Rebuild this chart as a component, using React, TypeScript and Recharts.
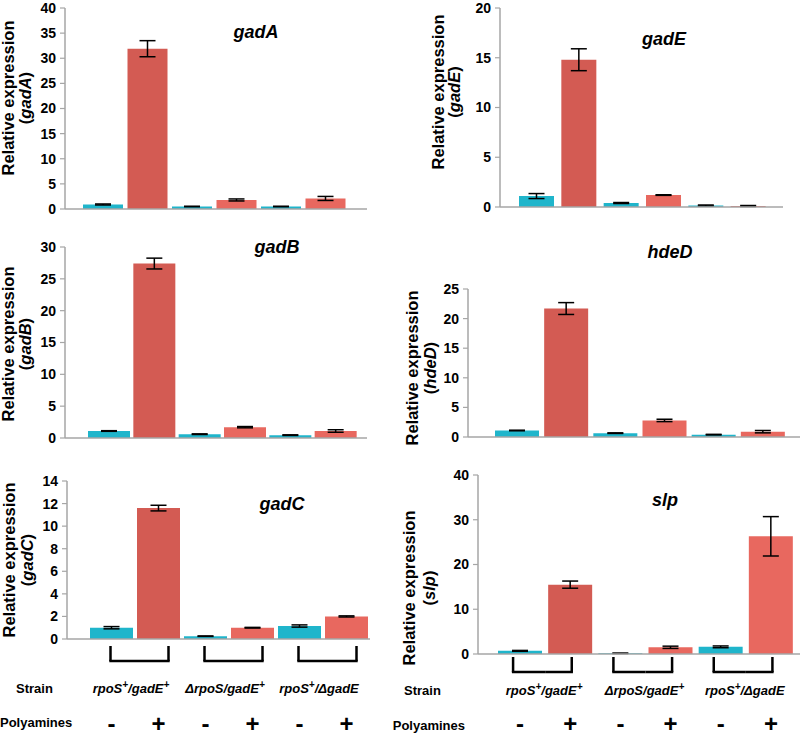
import React from 'react';
import { BarChart, Bar, XAxis, YAxis, ErrorBar, Cell } from 'recharts';

const conditionKeys = ['c1', 'c2', 'c3', 'c4', 'c5', 'c6'];
const strainLabels = ['rpoS^+/gadE^+', 'ΔrpoS/gadE^+', 'rpoS^+/ΔgadE'];
const polyamineSigns = ['-', '+', '-', '+', '-', '+'];

const gadAValues = [0.9, 31.9, 0.5, 1.8, 0.5, 2.1];
const gadAErrors = [0.1, 1.6, 0.05, 0.2, 0.05, 0.4];
const gadATicks = [0, 5, 10, 15, 20, 25, 30, 35, 40];

const gadEValues = [1.1, 14.8, 0.4, 1.2, 0.15, 0.1];
const gadEErrors = [0.25, 1.1, 0.05, 0.03, 0.05, 0.05];
const gadETicks = [0, 5, 10, 15, 20];

const gadBValues = [1.1, 27.4, 0.6, 1.7, 0.45, 1.1];
const gadBErrors = [0.05, 0.85, 0.05, 0.1, 0.05, 0.2];
const gadBTicks = [0, 5, 10, 15, 20, 25, 30];

const hdeDValues = [1.1, 21.7, 0.65, 2.8, 0.4, 0.9];
const hdeDErrors = [0.05, 1.0, 0.05, 0.2, 0.05, 0.2];
const hdeDTicks = [0, 5, 10, 15, 20, 25];

const gadCValues = [1.0, 11.6, 0.25, 1.0, 1.15, 2.0];
const gadCErrors = [0.1, 0.25, 0.02, 0.03, 0.1, 0.05];
const gadCTicks = [0, 2, 4, 6, 8, 10, 12, 14];

const slpValues = [0.7, 15.5, 0.15, 1.5, 1.6, 26.3];
const slpErrors = [0.1, 0.8, 0.05, 0.25, 0.2, 4.4];
const slpTicks = [0, 10, 20, 30, 40];

const TEAL = '#1FB5CB';
const DARK_RED = '#D35B53';
const LIGHT_RED = '#E8685F';
const AXIS = '#A6A6A6';
const FONT = '"Liberation Sans", Arial, Helvetica, sans-serif';
const barColors = [TEAL, DARK_RED, TEAL, LIGHT_RED, TEAL, LIGHT_RED];

function StrainText({ label, x, y }: { label: string; x: number; y: number }) {
  const parts = label.split('^+');
  const kids: React.ReactNode[] = [];
  parts.forEach((p, i) => {
    kids.push(<tspan key={'t' + i} fontSize={13} dy={i > 0 ? 5 : 0}>{p}</tspan>);
    if (i < parts.length - 1) {
      kids.push(<tspan key={'s' + i} fontSize={10} dy={-5}>+</tspan>);
    }
  });
  return (
    <text x={x} y={y} textAnchor="middle" fontFamily={FONT} fontWeight="bold" fontStyle="italic" fill="#000">
      {kids}
    </text>
  );
}

function BottomTick(props: any) {
  const { x, y, payload, index, half, cfg } = props;
  const i = typeof index === 'number' ? index : payload?.index ?? 0;
  const teal = i % 2 === 0;
  const bt = y + cfg.bTop;
  const bb = y + cfg.bBot;
  const sw = 2.5;
  return (
    <g>
      {teal ? (
        <g>
          <line x1={x + cfg.dl} x2={x + cfg.dl} y1={bt} y2={bb} stroke="#000" strokeWidth={sw} />
          <line x1={x + cfg.dl - 1.2} x2={x + half} y1={bb} y2={bb} stroke="#000" strokeWidth={sw} />
          <StrainText label={strainLabels[i / 2]} x={x + half + cfg.labShift} y={y + cfg.strainY + 4.5} />
        </g>
      ) : (
        <g>
          <line x1={x - half} x2={x + cfg.dr + 1.2} y1={bb} y2={bb} stroke="#000" strokeWidth={sw} />
          <line x1={x + cfg.dr} x2={x + cfg.dr} y1={bt} y2={bb} stroke="#000" strokeWidth={sw} />
        </g>
      )}
      <text x={x} y={y + cfg.signY + 7} textAnchor="middle" fontFamily={FONT} fontWeight="bold" fontSize={24} fill="#000">
        {polyamineSigns[i]}
      </text>
    </g>
  );
}

type Box = { L: number; T: number; R: number; B: number };

function Panel(props: {
  values: number[];
  errors: number[];
  ticks: number[];
  box: Box;
  padL: number;
  padR: number;
  barSize: number;
  chartLeft: number;
  chartWidth: number;
  cfg?: any;
}) {
  const { values, errors, ticks, box, padL, padR, barSize, chartLeft, chartWidth, cfg } = props;
  const data = values.map((v, i) => ({ cond: conditionKeys[i], value: v, err: errors[i] }));
  const yW = 40;
  const top = Math.max(0, box.T - 12);
  const xH = cfg ? 738 - box.B : 14;
  const height = box.B - top + xH;
  const half = (box.R - padR - (box.L + padL)) / values.length / 2;
  return (
    <div style={{ position: 'absolute', left: chartLeft, top }}>
      <BarChart
        width={chartWidth}
        height={height}
        data={data}
        barCategoryGap={0}
        margin={{ top: box.T - top, left: box.L - chartLeft - yW, right: chartLeft + chartWidth - box.R, bottom: 0 }}
      >
        <XAxis
          dataKey="cond"
          axisLine={{ stroke: AXIS, strokeWidth: 1.5 }}
          tickLine={false}
          tickSize={0}
          tickMargin={0}
          height={xH}
          interval={0}
          padding={{ left: padL, right: padR }}
          tick={cfg ? (p: any) => <BottomTick {...p} half={half} cfg={cfg} /> : false}
        />
        <YAxis
          type="number"
          width={yW}
          domain={[0, ticks[ticks.length - 1]]}
          ticks={ticks}
          interval={0}
          allowDataOverflow
          axisLine={{ stroke: AXIS, strokeWidth: 1.5 }}
          tickLine={{ stroke: AXIS, strokeWidth: 1.2 }}
          tickSize={5}
          tickMargin={4}
          tick={{ fontSize: 14, fontWeight: 'bold', fill: '#000', fontFamily: FONT }}
        />
        <Bar dataKey="value" barSize={barSize} isAnimationActive={false}>
          {data.map((d, i) => (
            <Cell key={d.cond} fill={barColors[i]} />
          ))}
          <ErrorBar dataKey="err" width={8} stroke="#000" strokeWidth={1.5} direction="y" />
        </Bar>
      </BarChart>
    </div>
  );
}

function YLabel({ gene, x1, x2, cy }: { gene: string; x1: number; x2: number; cy: number }) {
  return (
    <g fontFamily={FONT} fontWeight="bold" fontSize={16.5} fill="#000">
      <text x={x1} y={cy} textAnchor="middle" transform={`rotate(-90 ${x1} ${cy})`}>Relative expression</text>
      <text x={x2} y={cy} textAnchor="middle" transform={`rotate(-90 ${x2} ${cy})`}>
        (<tspan fontStyle="italic">{gene}</tspan>)
      </text>
    </g>
  );
}

function Title({ gene, x, y }: { gene: string; x: number; y: number }) {
  return (
    <text x={x} y={y} textAnchor="middle" fontFamily={FONT} fontWeight="bold" fontStyle="italic" fontSize={18} fill="#000">
      {gene}
    </text>
  );
}

const leftCfg = { bTop: 7, bBot: 22, dl: -1, dr: 10, strainY: 49, signY: 86, labShift: -4 };
const rightCfg = { bTop: 3, bBot: 18, dl: -7, dr: 1.5, strainY: 36, signY: 71, labShift: -1 };

export default function App() {
  return (
    <div style={{ position: 'absolute', left: 0, top: 0, width: 800, height: 738, background: '#fff', overflow: 'hidden' }}>
      <Panel values={gadAValues} errors={gadAErrors} ticks={gadATicks} box={{ L: 65, T: 8, R: 367, B: 209 }} padL={16} padR={19} barSize={40} chartLeft={0} chartWidth={380} />
      <Panel values={gadEValues} errors={gadEErrors} ticks={gadETicks} box={{ L: 500, T: 8, R: 783, B: 207 }} padL={15} padR={14} barSize={35} chartLeft={400} chartWidth={400} />
      <Panel values={gadBValues} errors={gadBErrors} ticks={gadBTicks} box={{ L: 65, T: 247, R: 367, B: 438 }} padL={21} padR={9} barSize={42} chartLeft={0} chartWidth={380} />
      <Panel values={hdeDValues} errors={hdeDErrors} ticks={hdeDTicks} box={{ L: 468, T: 289, R: 800, B: 437 }} padL={24} padR={13} barSize={44} chartLeft={400} chartWidth={400} />
      <Panel values={gadCValues} errors={gadCErrors} ticks={gadCTicks} box={{ L: 67, T: 481, R: 370, B: 639 }} padL={21} padR={0} barSize={43} chartLeft={0} chartWidth={385} cfg={leftCfg} />
      <Panel values={slpValues} errors={slpErrors} ticks={slpTicks} box={{ L: 478, T: 475, R: 800, B: 654 }} padL={17} padR={4} barSize={44} chartLeft={400} chartWidth={400} cfg={rightCfg} />
      <svg width={800} height={738} style={{ position: 'absolute', left: 0, top: 0, pointerEvents: 'none' }}>
        <Title gene="gadA" x={256} y={38} />
        <Title gene="gadE" x={664} y={45} />
        <Title gene="gadB" x={277} y={253} />
        <Title gene="hdeD" x={670} y={258} />
        <Title gene="gadC" x={282} y={510} />
        <Title gene="slp" x={665} y={506} />
        <YLabel gene="gadA" x1={14} x2={31} cy={98} />
        <YLabel gene="gadE" x1={444} x2={460} cy={92} />
        <YLabel gene="gadB" x1={14} x2={31} cy={344} />
        <YLabel gene="hdeD" x1={418} x2={436} cy={368} />
        <YLabel gene="gadC" x1={15} x2={33} cy={560} />
        <YLabel gene="slp" x1={415} x2={435} cy={588} />
        <g fontFamily={FONT} fontWeight="bold" fontSize={13} fill="#000">
          <text x={16} y={693}>Strain</text>
          <text x={0} y={727}>Polyamines</text>
          <text x={404} y={695}>Strain</text>
          <text x={465} y={730} textAnchor="end">Polyamines</text>
        </g>
      </svg>
    </div>
  );
}
